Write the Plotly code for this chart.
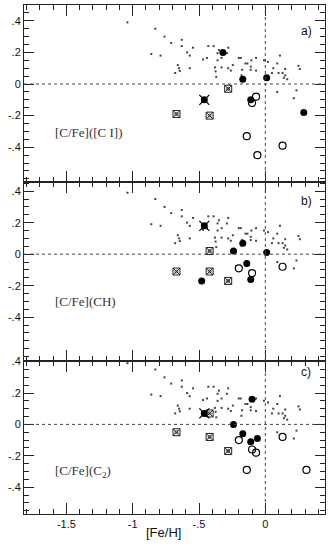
import plotly.graph_objects as go
from plotly.subplots import make_subplots

# ── Field stars (same cloud in all three panels) ─────────────────
FIELD_FEH = [-1.04, -0.83, -0.76, -0.71, -0.63, -0.63, -0.545, -0.59, -0.57, -0.86,
             -0.79, -0.66, -0.65, -0.645, -0.68, -0.57,
             -0.43, -0.39, -0.47, -0.44, -0.36, -0.35, -0.28, -0.29, -0.33, -0.36,
             -0.38, -0.375, -0.37, -0.33, -0.28, -0.26, -0.245, -0.20, -0.185, -0.175,
             -0.18, -0.15, -0.135, -0.105, -0.07, -0.11, -0.11, -0.07,
             -0.01, 0.02, 0.11, 0.09, 0.06, 0.25, 0.26, 0.15, 0.13, 0.15, 0.14, 0.165,
             0.10, 0.09, 0.235, 0.215, 0.05]
FIELD_CFE = [0.39, 0.35, 0.30, 0.26, 0.28, 0.24, 0.23, 0.20, 0.18, 0.19,
             0.18, 0.12, 0.10, 0.083, 0.07, 0.10,
             0.24, 0.24, 0.155, 0.165, 0.195, 0.215, 0.23, 0.195, 0.165, 0.15,
             0.105, 0.08, 0.045, 0.105, 0.10, 0.085, 0.12, 0.165, 0.165, 0.09,
             0.055, 0.13, 0.13, 0.15, 0.165, 0.11, 0.09, 0.085,
             0.15, 0.14, 0.18, 0.13, 0.10, 0.115, 0.095, 0.095, 0.07, 0.055, 0.04, 0.03,
             0.07, -0.05, -0.04, -0.09, 0.07]

# ── Panel a) [C I] ───────────────────────────────────────────────
A_FILLED_X = [-0.32, -0.17, 0.01, -0.11, 0.29]
A_FILLED_Y = [0.20, 0.03, 0.04, -0.10, -0.18]
A_OPEN_X = [-0.07, -0.10, -0.14, -0.06, 0.13]
A_OPEN_Y = [-0.08, -0.12, -0.33, -0.45, -0.39]
A_CROSS_X = [-0.28, -0.67, -0.42]
A_CROSS_Y = [-0.03, -0.19, -0.20]
A_FCROSS_X = [-0.46]
A_FCROSS_Y = [-0.10]

# ── Panel b) CH ──────────────────────────────────────────────────
B_FILLED_X = [-0.17, -0.24, 0.01, -0.14, -0.48, -0.11]
B_FILLED_Y = [0.07, 0.02, 0.01, -0.06, -0.17, -0.16]
B_OPEN_X = [-0.20, -0.10, 0.13]
B_OPEN_Y = [-0.09, -0.12, -0.08]
B_CROSS_X = [-0.42, -0.67, -0.42, -0.28]
B_CROSS_Y = [0.02, -0.11, -0.11, -0.17]
B_FCROSS_X = [-0.46]
B_FCROSS_Y = [0.18]

# ── Panel c) C2 ──────────────────────────────────────────────────
C_FILLED_X = [-0.10, -0.24, -0.17, -0.11, -0.06]
C_FILLED_Y = [0.16, 0.00, -0.06, -0.11, -0.09]
C_OPEN_X = [-0.20, -0.10, -0.07, -0.14, 0.13, 0.31]
C_OPEN_Y = [-0.10, -0.16, -0.18, -0.29, -0.08, -0.29]
C_CROSS_X = [-0.42, -0.67, -0.42, -0.28]
C_CROSS_Y = [0.07, -0.05, -0.08, -0.17]
C_FCROSS_X = [-0.46]
C_FCROSS_Y = [0.07]

PANELS = [
    dict(filled=(A_FILLED_X, A_FILLED_Y), open=(A_OPEN_X, A_OPEN_Y),
         cross=(A_CROSS_X, A_CROSS_Y), fcross=(A_FCROSS_X, A_FCROSS_Y),
         label="[C/Fe]([C I])", tag="a)", yrange=[-0.62, 0.50], ly=0.277, ty=0.853),
    dict(filled=(B_FILLED_X, B_FILLED_Y), open=(B_OPEN_X, B_OPEN_Y),
         cross=(B_CROSS_X, B_CROSS_Y), fcross=(B_FCROSS_X, B_FCROSS_Y),
         label="[C/Fe](CH)", tag="b)", yrange=[-0.678, 0.458], ly=0.33, ty=0.894),
    dict(filled=(C_FILLED_X, C_FILLED_Y), open=(C_OPEN_X, C_OPEN_Y),
         cross=(C_CROSS_X, C_CROSS_Y), fcross=(C_FCROSS_X, C_FCROSS_Y),
         label="[C/Fe](C<sub>2</sub>)", tag="c)", yrange=[-0.571, 0.404], ly=0.275, ty=0.928),
]

X_RANGE = [-1.82, 0.45]
INK = "#222"
SANS = "Liberation Sans"
SERIF = "Liberation Serif"

fig = make_subplots(rows=3, cols=1, shared_xaxes=True, vertical_spacing=0,
                    row_heights=[177, 179, 153])

for i, p in enumerate(PANELS, start=1):
    # field stars
    fig.add_trace(go.Scatter(x=FIELD_FEH, y=FIELD_CFE, mode="markers",
                             marker=dict(symbol="square", size=2, color="#444"),
                             hoverinfo="skip"), row=i, col=1)
    # crossed squares (square + X with a small ring inside)
    fig.add_trace(go.Scatter(x=p["cross"][0], y=p["cross"][1], mode="markers",
                             marker=dict(symbol="square-x-open", size=7, color=INK,
                                         line=dict(width=1, color=INK)),
                             hoverinfo="skip"), row=i, col=1)
    fig.add_trace(go.Scatter(x=p["cross"][0], y=p["cross"][1], mode="markers",
                             marker=dict(symbol="circle-open", size=3, color=INK,
                                         line=dict(width=0.8, color=INK)),
                             hoverinfo="skip"), row=i, col=1)
    # filled circle with cross
    fig.add_trace(go.Scatter(x=p["fcross"][0], y=p["fcross"][1], mode="markers",
                             marker=dict(symbol="circle", size=7, color="black"),
                             hoverinfo="skip"), row=i, col=1)
    fig.add_trace(go.Scatter(x=p["fcross"][0], y=p["fcross"][1], mode="markers",
                             marker=dict(symbol="x-thin-open", size=10, color="black",
                                         line=dict(width=1.2, color="black")),
                             hoverinfo="skip"), row=i, col=1)
    # filled circles
    fig.add_trace(go.Scatter(x=p["filled"][0], y=p["filled"][1], mode="markers",
                             marker=dict(symbol="circle", size=7, color="black"),
                             hoverinfo="skip"), row=i, col=1)
    # open circles
    fig.add_trace(go.Scatter(x=p["open"][0], y=p["open"][1], mode="markers",
                             marker=dict(symbol="circle-open", size=7, color="black",
                                         line=dict(width=1.2, color="black")),
                             hoverinfo="skip"), row=i, col=1)

    fig.add_hline(y=0, line=dict(color="#444", width=1, dash="dot"), row=i, col=1)
    fig.add_vline(x=0, line=dict(color="#444", width=1, dash="dot"), row=i, col=1)

    xname = "x" if i == 1 else f"x{i}"
    yname = "y" if i == 1 else f"y{i}"
    fig.add_annotation(text=p["label"], xref=f"{xname} domain", yref=f"{yname} domain",
                       x=0.096, y=p["ly"], xanchor="left", yanchor="middle",
                       showarrow=False, font=dict(family=SERIF, size=13, color="#333"))
    fig.add_annotation(text=p["tag"], xref=f"{xname} domain", yref=f"{yname} domain",
                       x=0.937, y=p["ty"], xanchor="center", yanchor="middle",
                       showarrow=False, font=dict(family=SANS, size=12, color="#111"))

    fig.update_yaxes(range=p["yrange"], row=i, col=1, automargin=False,
                     tickvals=[-0.4, -0.2, 0, 0.2, 0.4],
                     ticktext=["-.4", "-.2", "0", ".2", ".4"],
                     ticks="inside", ticklen=10, tickwidth=1, tickcolor=INK,
                     minor=dict(dtick=0.05, ticks="inside", ticklen=5, tickcolor=INK),
                     showline=True, mirror="ticks", linecolor=INK, linewidth=1,
                     showgrid=False, zeroline=False,
                     tickfont=dict(family=SANS, size=11, color="#111"))

fig.update_xaxes(range=X_RANGE, tickvals=[-1.5, -1, -0.5, 0], automargin=False,
                 ticktext=["-1.5", "-1", "-.5", "0"],
                 ticks="inside", ticklen=11, tickwidth=1, tickcolor=INK,
                 minor=dict(dtick=0.1, tick0=0, ticks="inside", ticklen=5, tickcolor=INK),
                 showline=True, mirror="ticks", linecolor=INK, linewidth=1,
                 showgrid=False, zeroline=False,
                 tickfont=dict(family=SANS, size=11, color="#111"))

fig.add_annotation(text="[Fe/H]", xref="paper", yref="paper", x=0.462, y=-0.036,
                   xanchor="center", yanchor="middle", showarrow=False,
                   font=dict(family=SANS, size=13, color="#111"))

fig.update_layout(width=334, height=549, showlegend=False,
                  margin=dict(l=24, r=9, t=5, b=35),
                  plot_bgcolor="white", paper_bgcolor="white")

# drop the default 8px page margin so the figure sits at the window origin
fig.write_html("out.html", config={"displayModeBar": False},
               post_script="document.body.style.margin='0';")
